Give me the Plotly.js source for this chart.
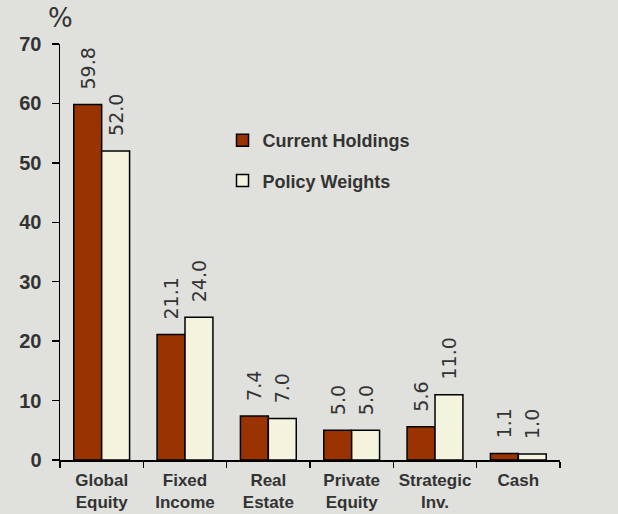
<!DOCTYPE html>
<html><head><meta charset="utf-8">
<script src="https://cdn.plot.ly/plotly-3.0.1.min.js"></script>
<style>html,body{margin:0;padding:0;background:#e0e0dc;}</style>
</head><body>
<div id="chart" style="width:618px;height:514px;"></div>
<script>
const categories = ["Global<br>Equity", "Fixed<br>Income", "Real<br>Estate", "Private<br>Equity", "Strategic<br>Inv.", "Cash"];
const currentHoldings = [59.8, 21.1, 7.4, 5.0, 5.6, 1.1];
const policyWeights = [52.0, 24.0, 7.0, 5.0, 11.0, 1.0];
const yTicks = [0, 10, 20, 30, 40, 50, 60, 70];

const labelFont = {family: "DejaVu Sans", size: 19, color: "#333333"};
function series(name, values, color) {
  return {
    type: "bar", name: name, x: categories, y: values,
    marker: {color: color, line: {color: "#000000", width: 1.5}},
    texttemplate: "\u00a0\u00a0%{y:.1f}", textposition: "outside", textangle: -90,
    textfont: labelFont, cliponaxis: false, constraintext: "none",
    legendgroup: name, hoverinfo: "skip"
  };
}
const data = [
  series("Current Holdings", currentHoldings, "#993300"),
  series("Policy Weights", policyWeights, "#f3f3de")
];
const layout = {
  width: 618, height: 514,
  paper_bgcolor: "#e0e0dc", plot_bgcolor: "#e0e0dc",
  margin: {l: 60, r: 58, t: 44, b: 54},
  barmode: "group", bargap: 0.33, bargroupgap: 0,
  font: {family: "Liberation Sans", color: "#333333"},
  showlegend: true,
  legend: {x: 0.325, y: 0.72, xanchor: "left", yanchor: "middle", bgcolor: "rgba(0,0,0,0)",
    font: {family: "Liberation Sans", size: 18, color: "#333333", weight: "bold"},
    traceorder: "grouped", tracegroupgap: 14, itemwidth: 30},
  xaxis: {showline: true, linecolor: "#000", linewidth: 1.5, ticks: "outside", tickson: "boundaries",
    ticklen: 6, tickcolor: "#000", tickwidth: 1.5, showgrid: false, zeroline: false, ticklabelstandoff: 4,
    tickfont: {family: "Liberation Sans", size: 17, color: "#333333", weight: "bold"}, fixedrange: true},
  yaxis: {range: [0, 70], tickvals: yTicks, showline: true, linecolor: "#000", linewidth: 1.5,
    ticks: "outside", ticklen: 7, tickcolor: "#000", tickwidth: 1.5, showgrid: false, zeroline: false,
    ticklabelstandoff: 6,
    tickfont: {family: "Liberation Sans", size: 20, color: "#333333", weight: "bold"}, fixedrange: true},
  annotations: [{text: "%", xref: "paper", yref: "paper", x: 0, y: 1.062, xanchor: "center", yanchor: "middle",
    showarrow: false, font: {family: "DejaVu Sans", size: 26, color: "#333333"}}]
};
Plotly.newPlot("chart", data, layout, {displayModeBar: false, staticPlot: true});
</script>
</body></html>
